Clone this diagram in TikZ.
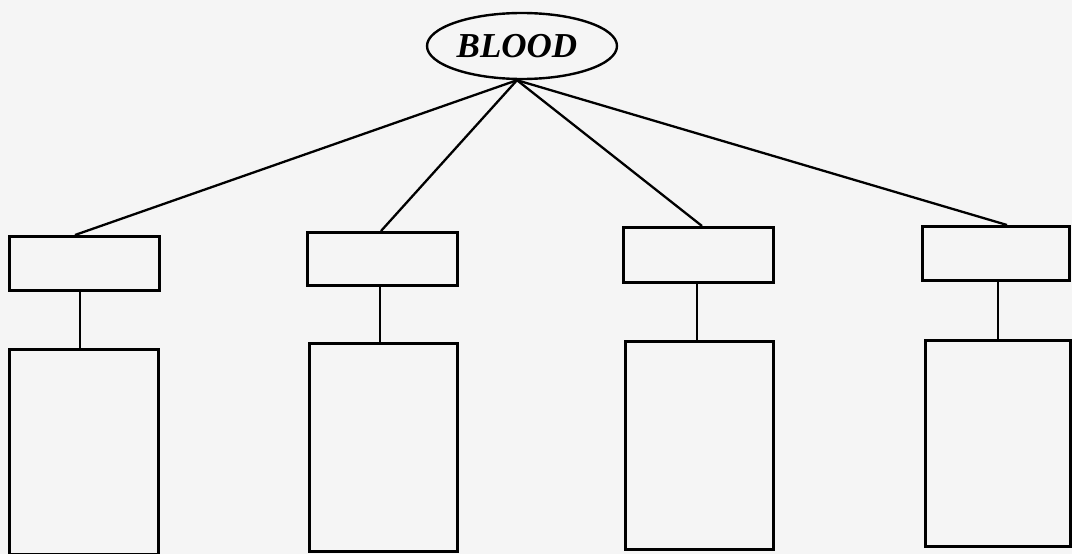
\documentclass[tikz,border=0pt]{standalone}
\usepackage{fontspec}
\setmainfont{Liberation Serif}
\usetikzlibrary{shapes.geometric,calc}
\begin{document}
\begin{tikzpicture}[x=1pt,y=-1pt,
  box/.style={draw, rectangle, anchor=north west, inner sep=0pt, line width=2.6pt},
  link/.style={draw, line width=2.3pt}]
\fill[black!4] (0,0) rectangle (1072,554);
\useasboundingbox (0,0) rectangle (1072,554);
\node[draw, ellipse, line width=2.4pt, minimum width=190pt, minimum height=66pt, inner sep=0pt,
  font=\fontsize{35}{35}\selectfont\bfseries\itshape] (blood) at (522,46) {\hspace*{-10pt}BLOOD};
\coordinate (hub) at ($(blood.south)+(-5,0)$);
% small boxes
\node[box, minimum width=150pt, minimum height=54pt] (s1) at (8,235) {};
\node[box, minimum width=150pt, minimum height=53pt] (s2) at (306,231) {};
\node[box, minimum width=150pt, minimum height=55pt] (s3) at (622,226) {};
\node[box, minimum width=147pt, minimum height=54pt] (s4) at (921,225) {};
% tall boxes
\node[box, minimum width=149pt, minimum height=205pt] (t1) at (8,348) {};
\node[box, minimum width=148pt, minimum height=208pt] (t2) at (308,342) {};
\node[box, minimum width=148pt, minimum height=208pt] (t3) at (624,340) {};
\node[box, minimum width=145pt, minimum height=206pt] (t4) at (924,339) {};
% connectors from BLOOD
\draw[link] (hub) -- ($(s1.north west)+(67,0)$);
\draw[link] (hub) -- ($(s2.north west)+(75,0)$);
\draw[link] (hub) -- ($(s3.north west)+(80,0)$);
\draw[link] (hub) -- ($(s4.north west)+(86,0)$);
% vertical connectors
\coordinate (v1) at ($(s1.south)+(-4,0)$);
\coordinate (v2) at ($(s2.south)+(-2,0)$);
\coordinate (v3) at ($(s3.south)+(-1,0)$);
\coordinate (v4) at ($(s4.south)+(2,0)$);
\draw[link] (v1) -- (v1 |- t1.north);
\draw[link] (v2) -- (v2 |- t2.north);
\draw[link] (v3) -- (v3 |- t3.north);
\draw[link] (v4) -- (v4 |- t4.north);
\end{tikzpicture}
\end{document}
